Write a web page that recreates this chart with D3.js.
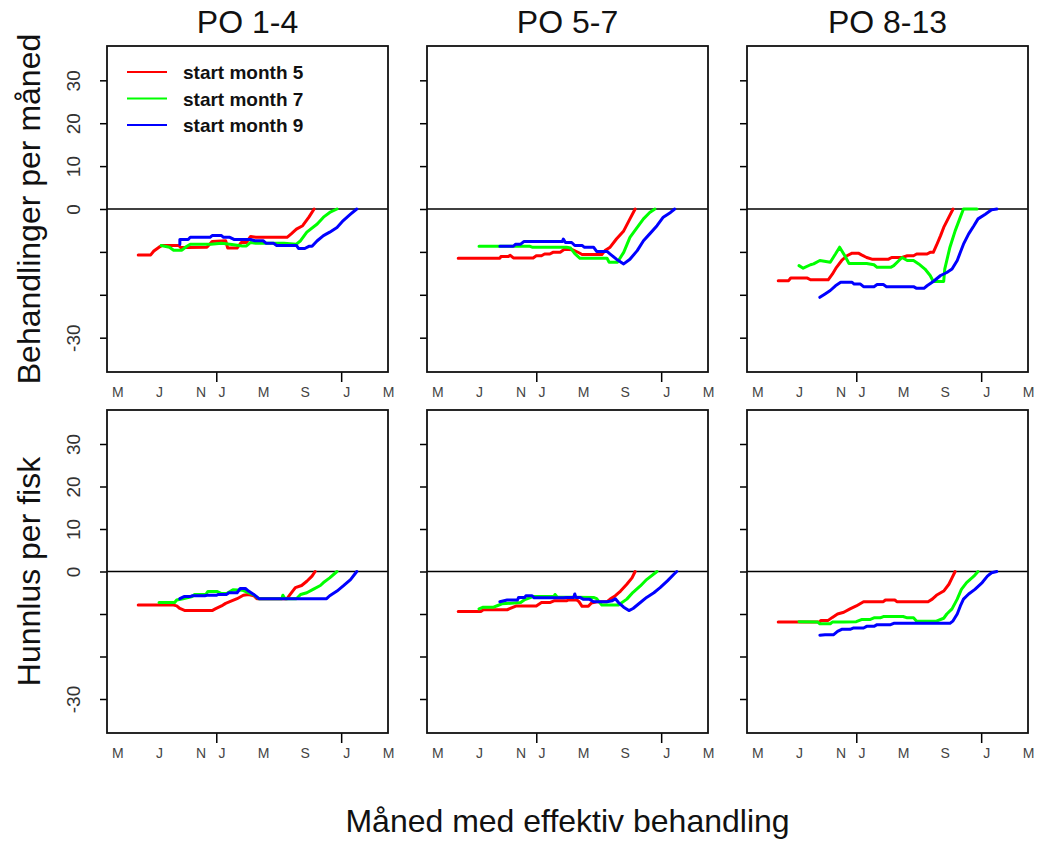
<!DOCTYPE html>
<html>
<head>
<meta charset="utf-8">
<script src="https://cdn.jsdelivr.net/npm/d3@7"></script>
<style>
  body { margin: 0; background: #fff; }
  svg { display: block; font-family: "Liberation Sans", Arial, sans-serif; }
</style>
</head>
<body>
<svg id="chart" width="1038" height="844"></svg>
<script>
// panel titles, row titles, legend
const panelTitles = ["PO 1-4", "PO 5-7", "PO 8-13"];
const rowTitles = ["Behandlinger per måned", "Hunnlus per fisk"];
const xTitle = "Måned med effektiv behandling";
const seriesNames = ["start month 5", "start month 7", "start month 9"];

// x axis: month number (13 = January next year)
const xLabels = ["M", "J", "N", "J", "M", "S", "J", "M"];
const xLabelPos = [3, 7, 11, 13, 17, 21, 25, 29];
const yearTicks = [12.5, 24.5];
const yTicks = [-30, -20, -10, 0, 10, 20, 30];
const yLabelTicks = [30, 20, 10, 0, -30];

// Behandlinger per måned, [month, value]
const behPO14m5 = [[5.0,-10.7],[6.2,-10.7],[6.5,-9.8],[7.0,-8.9],[7.3,-8.5],[8.9,-8.5],[9.1,-9.0],[9.8,-9.0],[11.6,-8.9],[12.1,-7.6],[13.4,-7.4],[13.6,-9.1],[14.5,-9.1],[14.9,-7.8],[15.4,-7.8],[15.8,-6.4],[16.3,-6.6],[19.3,-6.6],[19.7,-5.8],[20.2,-4.7],[20.8,-3.9],[21.4,-1.9],[21.9,0]];
const behPO14m7 = [[7.2,-8.5],[8.0,-8.9],[8.4,-9.6],[9.2,-9.6],[9.6,-8.8],[10.0,-8.2],[12.0,-8.2],[13.0,-8.0],[14.0,-8.3],[15.0,-8.6],[15.4,-8.6],[15.8,-7.8],[16.3,-8.0],[19.0,-8.0],[20.2,-8.2],[20.6,-7.4],[21.2,-5.4],[22.2,-3.5],[22.8,-1.9],[23.4,-0.8],[24.1,0]];
const behPO14m9 = [[9.0,-8.2],[9.0,-7.1],[9.8,-7.1],[10.0,-6.6],[11.9,-6.6],[12.1,-6.2],[13.0,-6.2],[13.2,-6.6],[13.8,-6.6],[14.2,-7.1],[15.8,-7.1],[16.2,-7.4],[17.0,-7.4],[17.3,-8.0],[18.0,-8.0],[18.3,-8.5],[20.2,-8.5],[20.4,-9.2],[21.0,-9.2],[21.4,-8.7],[21.7,-8.7],[22.2,-7.4],[22.8,-6.2],[23.4,-5.4],[24.1,-4.3],[24.7,-2.7],[25.4,-1.2],[26.0,0]];

const behPO57m5 = [[5.0,-11.5],[9.0,-11.5],[9.1,-11.1],[9.8,-11.1],[10.0,-10.8],[10.3,-11.4],[12.2,-11.4],[12.5,-10.9],[13.0,-10.9],[13.3,-10.5],[13.8,-10.5],[14.1,-10.1],[14.8,-10.1],[15.2,-9.4],[16.0,-9.5],[16.6,-10.2],[16.9,-10.6],[18.8,-10.6],[19.1,-9.7],[19.6,-8.9],[20.2,-7.0],[20.9,-5.1],[21.5,-2.3],[22.0,0]];
const behPO57m7 = [[7.0,-8.7],[11.9,-8.7],[12.1,-8.9],[15.4,-8.9],[15.8,-9.1],[16.2,-10.4],[16.7,-11.5],[19.3,-11.5],[19.5,-12.4],[20.3,-12.4],[20.9,-10.1],[21.5,-6.6],[22.2,-4.3],[22.8,-2.3],[23.4,-0.8],[23.9,0]];
const behPO57m9 = [[9.0,-8.7],[10.3,-8.7],[10.5,-8.2],[11.0,-8.2],[11.3,-7.6],[15.0,-7.6],[15.1,-7.0],[15.3,-7.8],[15.9,-7.8],[16.2,-8.5],[16.9,-8.5],[17.1,-8.9],[18.0,-8.9],[18.3,-9.9],[19.3,-9.9],[19.6,-10.5],[20.2,-11.7],[20.9,-12.8],[21.5,-11.7],[22.2,-9.7],[22.8,-7.4],[23.4,-5.8],[24.1,-3.9],[24.7,-1.9],[25.4,-0.8],[25.8,0]];

const behPO813m5 = [[5.0,-16.7],[6.0,-16.7],[6.2,-16.1],[7.8,-16.1],[8.1,-16.5],[9.8,-16.5],[10.2,-15.2],[10.6,-13.6],[11.1,-12.0],[11.6,-10.9],[12.1,-10.3],[12.7,-10.3],[13.0,-10.7],[13.5,-11.3],[14.0,-11.7],[15.6,-11.7],[15.9,-11.3],[16.9,-11.3],[17.4,-10.9],[18.0,-10.9],[18.3,-10.5],[19.3,-10.5],[19.6,-10.1],[19.9,-10.1],[20.2,-8.5],[20.6,-6.2],[20.9,-4.3],[21.4,-1.9],[21.8,0]];
const behPO813m7 = [[7.0,-13.2],[7.4,-13.8],[8.1,-13.0],[8.4,-12.8],[9.0,-12.0],[10.0,-12.4],[10.5,-10.5],[10.9,-8.9],[11.4,-10.9],[11.8,-12.7],[13.5,-12.7],[14.2,-13.0],[14.5,-13.6],[15.8,-13.6],[16.1,-13.2],[16.6,-12.0],[16.9,-11.3],[17.4,-12.0],[18.0,-12.0],[18.5,-12.8],[19.1,-14.0],[19.6,-15.5],[19.9,-16.9],[20.9,-16.9],[21.0,-14.0],[21.5,-8.9],[22.0,-5.1],[22.5,-1.9],[22.8,0],[24.1,0]];
const behPO813m9 = [[9.0,-20.6],[9.5,-19.8],[10.0,-19.0],[10.5,-17.9],[11.0,-17.1],[12.1,-17.1],[12.3,-17.5],[12.9,-17.5],[13.2,-18.1],[14.2,-18.1],[14.5,-17.6],[15.1,-17.6],[15.4,-18.1],[18.0,-18.1],[18.3,-18.5],[19.0,-18.5],[19.3,-17.9],[19.9,-16.9],[20.6,-15.5],[21.2,-14.8],[21.7,-14.0],[22.2,-12.0],[22.5,-10.1],[22.8,-8.2],[23.3,-5.8],[23.8,-3.9],[24.2,-2.3],[24.9,-1.2],[25.5,-0.2],[26.0,0]];

// Hunnlus per fisk, [month, value]
const lusPO14m5 = [[5.0,-7.9],[8.4,-7.9],[8.7,-8.1],[9.0,-8.7],[9.5,-9.2],[12.1,-9.2],[12.4,-8.8],[13.0,-8.1],[13.4,-7.5],[13.8,-7.1],[14.5,-6.4],[15.1,-5.6],[15.6,-5.4],[16.1,-5.7],[16.4,-6.4],[19.3,-6.4],[19.6,-5.4],[20.1,-3.8],[20.7,-3.3],[21.2,-2.3],[21.7,-1.1],[22.0,0]];
const lusPO14m7 = [[7.0,-7.3],[8.5,-7.3],[8.7,-6.7],[9.3,-6.4],[10.2,-5.9],[10.4,-5.4],[11.5,-5.4],[11.7,-4.7],[12.6,-4.7],[13.0,-5.2],[13.5,-5.2],[14.1,-4.3],[15.0,-4.4],[15.5,-4.9],[16.1,-5.5],[16.6,-6.4],[18.8,-6.4],[18.9,-5.6],[19.1,-6.4],[20.2,-6.4],[20.6,-5.4],[21.2,-5.0],[21.8,-4.2],[22.5,-3.3],[22.8,-2.6],[23.4,-1.5],[24.1,0]];
const lusPO14m9 = [[9.0,-6.4],[9.4,-5.9],[10.0,-5.9],[10.2,-5.7],[11.4,-5.7],[11.6,-5.6],[12.5,-5.6],[12.7,-5.4],[13.5,-5.4],[13.7,-5.0],[14.5,-5.0],[14.8,-4.0],[15.3,-4.0],[15.6,-4.6],[16.1,-5.4],[16.6,-6.4],[23.1,-6.4],[23.4,-5.7],[24.1,-4.6],[24.7,-3.4],[25.4,-1.9],[26.0,0]];

const lusPO57m5 = [[5.0,-9.4],[7.2,-9.4],[7.4,-9.0],[9.7,-9.0],[10.0,-8.7],[10.6,-8.1],[12.5,-8.1],[13.0,-7.3],[13.8,-7.3],[14.2,-6.9],[15.4,-6.9],[15.6,-6.7],[16.4,-6.7],[16.6,-7.1],[16.9,-8.2],[17.5,-8.2],[17.8,-7.4],[18.3,-7.1],[19.3,-7.1],[19.6,-6.5],[20.1,-5.7],[20.6,-4.6],[21.2,-3.0],[21.7,-1.5],[22.0,0]];
const lusPO57m7 = [[7.0,-8.8],[7.4,-8.4],[8.4,-8.4],[8.8,-8.0],[9.2,-7.6],[11.0,-7.3],[11.4,-6.6],[12.2,-5.9],[14.2,-5.9],[14.3,-5.4],[14.5,-6.0],[18.0,-6.1],[18.3,-6.4],[18.8,-7.9],[20.4,-7.9],[21.2,-6.5],[21.8,-4.9],[22.5,-3.4],[23.1,-1.9],[24.1,0]];
const lusPO57m9 = [[9.0,-7.1],[9.7,-6.7],[10.7,-6.7],[10.8,-6.1],[11.4,-6.1],[11.5,-5.7],[12.1,-5.7],[12.3,-6.2],[15.1,-6.2],[15.4,-6.1],[16.1,-6.1],[16.2,-5.3],[16.3,-6.1],[16.7,-6.1],[17.0,-6.5],[17.6,-6.5],[18.0,-7.1],[19.3,-7.1],[19.8,-6.9],[20.1,-6.4],[20.4,-7.3],[20.9,-8.4],[21.4,-9.2],[21.8,-8.7],[22.5,-7.3],[23.1,-6.1],[23.8,-5.0],[24.4,-3.8],[25.1,-2.2],[25.7,-0.7],[26.0,0]];

const lusPO813m5 = [[5.0,-11.9],[9.0,-11.9],[9.1,-11.5],[9.8,-11.5],[10.2,-10.8],[10.7,-10.0],[11.3,-9.6],[11.9,-8.8],[12.5,-8.1],[13.2,-7.1],[15.1,-7.1],[15.3,-6.7],[16.2,-6.7],[16.4,-7.1],[19.4,-7.1],[19.8,-6.5],[20.2,-5.6],[20.9,-4.6],[21.4,-3.0],[21.7,-1.5],[22.0,0]];
const lusPO813m7 = [[7.0,-11.8],[8.8,-11.9],[9.0,-12.3],[10.0,-12.3],[10.2,-11.9],[11.3,-11.9],[12.5,-11.8],[13.0,-11.3],[13.8,-11.3],[14.2,-10.9],[14.8,-10.9],[15.1,-10.6],[17.0,-10.6],[17.4,-10.9],[18.0,-10.9],[18.3,-11.7],[20.2,-11.7],[20.9,-11.0],[21.2,-10.0],[21.7,-8.8],[22.2,-6.5],[22.6,-4.2],[23.1,-2.6],[23.8,-1.1],[24.2,0]];
const lusPO813m9 = [[9.0,-15.0],[9.5,-14.9],[10.3,-14.9],[10.7,-14.1],[11.1,-13.6],[11.9,-13.6],[12.2,-13.3],[13.2,-13.3],[13.5,-12.9],[14.2,-12.9],[14.5,-12.5],[15.8,-12.5],[16.1,-12.2],[21.5,-12.2],[21.8,-11.6],[22.2,-10.0],[22.5,-8.1],[22.8,-6.5],[23.3,-5.3],[23.9,-4.2],[24.6,-2.6],[25.1,-1.1],[25.5,-0.3],[26.0,0]];

const rows = [
    [[behPO14m5, behPO14m7, behPO14m9], [behPO57m5, behPO57m7, behPO57m9], [behPO813m5, behPO813m7, behPO813m9]],
    [[lusPO14m5, lusPO14m7, lusPO14m9], [lusPO57m5, lusPO57m7, lusPO57m9], [lusPO813m5, lusPO813m7, lusPO813m9]]
];

document.addEventListener("DOMContentLoaded", function () {
    const colors = ["#ff0000", "#00ff00", "#0000ff"];
    const panelW = 281;
    const colX = [107, 427, 747];
    const rowY = [46, 410];
    const rowH = [326, 323];

    const svg = d3.select("#chart");
    const x = d3.scaleLinear().domain([2, 29]).range([0, panelW]);

    rows.forEach((row, r) => {
        const y = d3.scaleLinear().domain([-38, 38]).range([rowH[r], 0]);
        const line = d3.line().x(d => x(d[0])).y(d => y(d[1]));

        row.forEach((seriesSet, c) => {
            const g = svg.append("g").attr("transform", `translate(${colX[c]},${rowY[r]})`);

            // y axis, labels only in the first column
            const yAxis = g.append("g")
                .call(d3.axisLeft(y).tickValues(yTicks).tickSize(7)
                    .tickFormat(d => (c === 0 && yLabelTicks.includes(d)) ? d : ""));
            yAxis.select(".domain").remove();
            yAxis.selectAll("line").attr("stroke", "#000").attr("stroke-width", 1.5);
            yAxis.selectAll("text")
                .attr("x", null).attr("dy", null)
                .attr("text-anchor", "middle")
                .attr("transform", "translate(-27,0) rotate(-90)")
                .attr("fill", "#333")
                .style("font-size", "19px")
                .style("font-family", "Liberation Sans, Arial, sans-serif");

            // year ticks
            const xTickAxis = g.append("g").attr("transform", `translate(0,${rowH[r]})`)
                .call(d3.axisBottom(x).tickValues(yearTicks).tickSize(10).tickFormat(""));
            xTickAxis.select(".domain").remove();
            xTickAxis.selectAll("line").attr("stroke", "#000").attr("stroke-width", 1.5);

            // month letters
            const xLabAxis = g.append("g").attr("transform", `translate(0,${rowH[r]})`)
                .call(d3.axisBottom(x).tickValues(xLabelPos).tickSize(0).tickPadding(15)
                    .tickFormat((d, i) => xLabels[i]));
            xLabAxis.select(".domain").remove();
            xLabAxis.selectAll("text")
                .attr("fill", "#444")
                .style("font-size", "14px")
                .style("font-family", "Liberation Sans, Arial, sans-serif");

            g.append("line")
                .attr("x1", 0).attr("x2", panelW)
                .attr("y1", y(0)).attr("y2", y(0))
                .attr("stroke", "#000").attr("stroke-width", 1.5);

            g.selectAll(".series")
                .data(seriesSet)
                .enter()
                .append("path")
                .attr("class", "series")
                .attr("d", line)
                .attr("fill", "none")
                .attr("stroke", (d, i) => colors[i])
                .attr("stroke-width", 3)
                .attr("stroke-linejoin", "round")
                .attr("stroke-linecap", "round");

            g.append("rect")
                .attr("x", 0).attr("y", 0)
                .attr("width", panelW).attr("height", rowH[r])
                .attr("fill", "none")
                .attr("stroke", "#111").attr("stroke-width", 1.8);

            if (r === 0) {
                svg.append("text")
                    .attr("x", colX[c] + panelW / 2).attr("y", 33)
                    .attr("text-anchor", "middle")
                    .style("font-size", "32px")
                    .attr("fill", "#111")
                    .text(panelTitles[c]);
            }

            if (r === 0 && c === 0) {
                const legend = g.selectAll(".legend")
                    .data(seriesNames)
                    .enter()
                    .append("g")
                    .attr("class", "legend")
                    .attr("transform", (d, i) => `translate(20,${26 + i * 26.5})`);
                legend.append("line")
                    .attr("x1", 0).attr("x2", 40)
                    .attr("stroke", (d, i) => colors[i])
                    .attr("stroke-width", 2);
                legend.append("text")
                    .attr("x", 56).attr("y", 7)
                    .style("font-size", "19px")
                    .style("font-weight", "bold")
                    .attr("fill", "#111")
                    .text(d => d);
            }
        });

        svg.append("text")
            .attr("transform", `translate(40,${rowY[r] + rowH[r] / 2}) rotate(-90)`)
            .attr("text-anchor", "middle")
            .style("font-size", "32px")
            .attr("fill", "#111")
            .text(rowTitles[r]);
    });

    svg.append("text")
        .attr("x", colX[1] + panelW / 2).attr("y", 832)
        .attr("text-anchor", "middle")
        .style("font-size", "32px")
        .attr("fill", "#111")
        .text(xTitle);
});
</script>
</body>
</html>
